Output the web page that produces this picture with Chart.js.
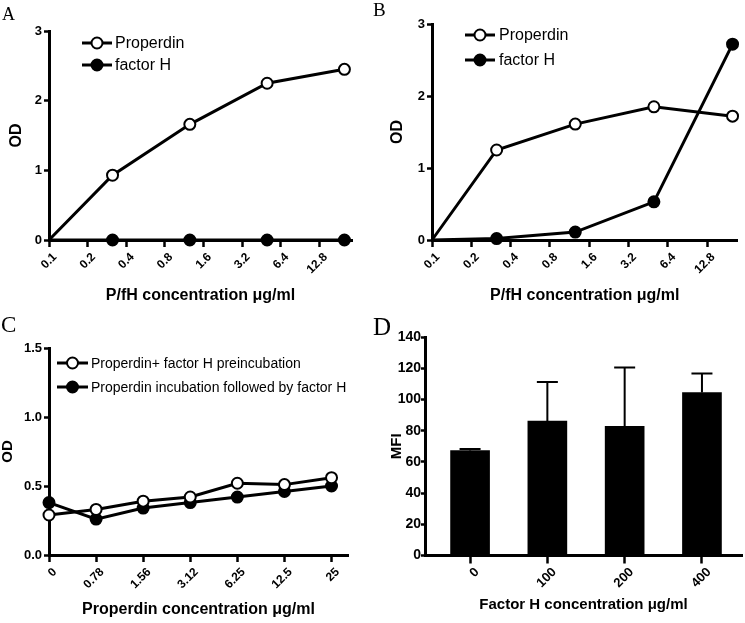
<!DOCTYPE html>
<html><head><meta charset="utf-8">
<script src="https://cdn.jsdelivr.net/npm/chart.js@4.4.1/dist/chart.umd.min.js"></script>
<style>
html,body{margin:0;padding:0;background:#fff;}
#wrap{position:relative;width:745px;height:623px;overflow:hidden;background:#fff;}
canvas{position:absolute;}
.lbl{position:absolute;font-family:"Liberation Serif","Times New Roman",serif;line-height:1;color:#000;}
</style></head><body>
<div id="wrap">
<canvas id="cA" width="372" height="310" style="left:0;top:0"></canvas>
<canvas id="cB" width="373" height="310" style="left:372px;top:0"></canvas>
<canvas id="cC" width="372" height="313" style="left:0;top:310px"></canvas>
<canvas id="cD" width="373" height="313" style="left:372px;top:310px"></canvas>
<div class="lbl" style="left:2px;top:5px;font-size:18px">A</div>
<div class="lbl" style="left:373px;top:0px;font-size:19px">B</div>
<div class="lbl" style="left:1px;top:313px;font-size:23px">C</div>
<div class="lbl" style="left:373px;top:314px;font-size:25px">D</div>
</div>
<script>
// ---- data ----
const concTickLabelsAB = ['0.1','0.2','0.4','0.8','1.6','3.2','6.4','12.8'];
const concAB = [0.1, 0.3125, 1.25, 5, 20];
const properdinA = [0, 0.93, 1.66, 2.25, 2.45];
const factorHA = [0, 0, 0, 0, 0];
const properdinB = [0, 1.25, 1.61, 1.85, 1.72];
const factorHB = [0, 0.02, 0.11, 0.53, 2.72];
const odTicksAB = [0, 1, 2, 3];

const concC = ['0','0.78','1.56','3.12','6.25','12.5','25'];
const preincubationC = [0.29, 0.33, 0.39, 0.42, 0.52, 0.51, 0.56];
const followedC = [0.38, 0.26, 0.34, 0.38, 0.42, 0.46, 0.50];
const odTicksC = [0, 0.5, 1.0, 1.5];

const concD = ['0','100','200','400'];
const mfiD = [67.2, 86.1, 82.7, 104.4];
const errD = [1.1, 25.1, 37.8, 12.2];
const mfiTicksD = [0, 20, 40, 60, 80, 100, 120, 140];

// ---- helpers ----
const FAM = '"Liberation Sans", Arial, Helvetica, sans-serif';
const BLACK = '#000';
const log2x = c => Math.log2(c / 0.1);

const insideLegend = {
  id: 'insideLegend',
  afterDraw(chart, args, o) {
    const ctx = chart.ctx;
    chart.data.datasets.forEach((ds, i) => {
      const y = o.y + i * o.gap;
      ctx.save();
      ctx.strokeStyle = BLACK; ctx.lineWidth = 3;
      ctx.beginPath(); ctx.moveTo(o.x0, y); ctx.lineTo(o.x1, y); ctx.stroke();
      ctx.beginPath(); ctx.arc((o.x0 + o.x1) / 2, y, o.r, 0, Math.PI * 2);
      ctx.fillStyle = ds.pointBackgroundColor; ctx.fill();
      ctx.lineWidth = 2; ctx.stroke();
      ctx.fillStyle = BLACK; ctx.font = o.font; ctx.textBaseline = 'middle'; ctx.textAlign = 'left';
      ctx.fillText(ds.label, o.tx, y + 1);
      ctx.restore();
    });
  }
};

const errorBars = {
  id: 'errorBars',
  afterDatasetsDraw(chart, args, o) {
    const {ctx, scales: {x, y}} = chart;
    const ds = chart.data.datasets[0];
    ctx.save();
    ctx.strokeStyle = BLACK; ctx.lineWidth = o.width;
    ds.data.forEach((p, i) => {
      const px = x.getPixelForValue(p.x);
      const base = y.getPixelForValue(p.y);
      const top = y.getPixelForValue(p.y + ds.errors[i]);
      ctx.beginPath();
      ctx.moveTo(px, base); ctx.lineTo(px, top);
      ctx.moveTo(px - o.cap / 2, top); ctx.lineTo(px + o.cap / 2, top);
      ctx.stroke();
    });
    ctx.restore();
  }
};

function gridOpts(len) {
  return {display: true, drawOnChartArea: false, drawTicks: true, tickLength: len, tickWidth: 2.5, tickColor: BLACK, color: BLACK};
}
function borderOpts() { return {display: true, color: BLACK, width: 3}; }

function lineDataset(label, xs, ys, open, hideFirst) {
  return {
    label,
    data: xs.map((x, i) => ({x, y: ys[i]})),
    borderColor: BLACK, borderWidth: 3,
    pointBackgroundColor: open ? '#fff' : BLACK,
    pointBorderColor: BLACK, pointBorderWidth: 2,
    pointRadius: ctx => (hideFirst && ctx.dataIndex === 0) ? 0 : 5.5,
    tension: 0, clip: false, fill: false
  };
}

function xAxis(o) {
  return {
    type: 'linear', min: o.min, max: o.max, offset: false,
    afterBuildTicks: s => { s.ticks = o.labels.map((_, i) => ({value: i})); },
    ticks: {callback: v => o.labels[v], autoSkip: false, maxRotation: 45, minRotation: 45,
      font: {family: FAM, size: o.tickSize, weight: 'bold'}, color: BLACK, padding: o.tickPad, labelOffset: o.labelOffset},
    grid: Object.assign(gridOpts(o.tickLen), {offset: false}),
    border: borderOpts(),
    title: {display: true, text: o.title, color: BLACK, font: {family: FAM, size: o.titleSize, weight: 'bold', lineHeight: 1.2}, padding: {top: 0, bottom: o.titlePad}},
    afterFit: s => { s.height = o.height; }
  };
}
function yAxis(o) {
  return {
    type: 'linear', min: o.min, max: o.max,
    afterBuildTicks: s => { s.ticks = o.ticks.map(v => ({value: v})); },
    ticks: {callback: o.fmt, font: {family: FAM, size: o.tickSize, weight: 'bold'}, color: BLACK, padding: o.tickPad},
    grid: gridOpts(o.tickLen),
    border: borderOpts(),
    title: {display: true, text: o.title, color: BLACK, font: {family: FAM, size: o.titleSize, weight: 'bold', lineHeight: 1.2}, padding: {top: o.titlePad, bottom: 0}},
    afterFit: s => { s.width = o.width; }
  };
}
const base = {responsive: false, animation: false, devicePixelRatio: 1, events: []};

// ---- A ----
new Chart(document.getElementById('cA'), {
  type: 'line',
  data: {datasets: [
    lineDataset('Properdin', concAB.map(log2x), properdinA, true, true),
    lineDataset('factor H', concAB.map(log2x), factorHA, false, true)
  ]},
  options: Object.assign({}, base, {
    layout: {padding: {left: 0, top: 31, right: 20, bottom: 0}},
    plugins: {legend: {display: false}, tooltip: {enabled: false},
      insideLegend: {x0: 82, x1: 112, y: 43, gap: 22, r: 5.5, tx: 115, font: '16px ' + FAM}},
    scales: {
      x: xAxis({min: 0, max: 7.84, labels: concTickLabelsAB, tickSize: 12, tickPad: 3, labelOffset: 6, tickLen: 7, title: 'P/fH concentration μg/ml', titleSize: 16, titlePad: 5, height: 70}),
      y: yAxis({min: 0, max: 3, ticks: odTicksAB, fmt: v => String(v), tickSize: 13, tickPad: 2, tickLen: 5, title: 'OD', titleSize: 16, titlePad: 7, width: 49})
    }
  }),
  plugins: [insideLegend]
});

// ---- B ----
new Chart(document.getElementById('cB'), {
  type: 'line',
  data: {datasets: [
    lineDataset('Properdin', concAB.map(log2x), properdinB, true, true),
    lineDataset('factor H', concAB.map(log2x), factorHB, false, true)
  ]},
  options: Object.assign({}, base, {
    layout: {padding: {left: 0, top: 24, right: 3, bottom: 0}},
    plugins: {legend: {display: false}, tooltip: {enabled: false},
      insideLegend: {x0: 93, x1: 123, y: 35, gap: 25, r: 5.5, tx: 127, font: '16px ' + FAM}},
    scales: {
      x: xAxis({min: 0, max: 7.77, labels: concTickLabelsAB, tickSize: 12, tickPad: 3, labelOffset: 6, tickLen: 7, title: 'P/fH concentration μg/ml', titleSize: 16, titlePad: 5, height: 70}),
      y: yAxis({min: 0, max: 3, ticks: odTicksAB, fmt: v => String(v), tickSize: 13, tickPad: 2, tickLen: 5, title: 'OD', titleSize: 16, titlePad: 16, width: 60})
    }
  }),
  plugins: [insideLegend]
});

// ---- C ----
new Chart(document.getElementById('cC'), {
  type: 'line',
  data: {datasets: [
    lineDataset('Properdin+ factor H preincubation', concC.map((_, i) => i), preincubationC, true, false),
    lineDataset('Properdin incubation followed by factor H', concC.map((_, i) => i), followedC, false, false)
  ]},
  options: Object.assign({}, base, {
    layout: {padding: {left: 0, top: 38, right: 24, bottom: 0}},
    plugins: {legend: {display: false}, tooltip: {enabled: false},
      insideLegend: {x0: 57, x1: 88, y: 53, gap: 24, r: 5.5, tx: 91, font: '14px ' + FAM}},
    scales: {
      x: xAxis({min: 0, max: 6.35, labels: concC, tickSize: 12, tickPad: 3, labelOffset: 6, tickLen: 7, title: 'Properdin concentration μg/ml', titleSize: 16, titlePad: 4, height: 68}),
      y: yAxis({min: 0, max: 1.5, ticks: odTicksC, fmt: v => v.toFixed(1), tickSize: 13, tickPad: 2, tickLen: 5, title: 'OD', titleSize: 15, titlePad: -1, width: 49})
    }
  }),
  plugins: [insideLegend]
});

// ---- D ----
new Chart(document.getElementById('cD'), {
  type: 'bar',
  data: {datasets: [{
    label: 'MFI',
    data: mfiD.map((v, i) => ({x: i, y: v})),
    errors: errD,
    backgroundColor: BLACK, borderWidth: 0, barThickness: 39
  }]},
  options: Object.assign({}, base, {
    layout: {padding: {left: 0, top: 27, right: 3, bottom: 0}},
    plugins: {legend: {display: false}, tooltip: {enabled: false}, errorBars: {width: 2, cap: 21}},
    scales: {
      x: xAxis({min: -0.583, max: 3.518, labels: concD, tickSize: 13, tickPad: 1, labelOffset: 7, tickLen: 8, title: 'Factor H concentration μg/ml', titleSize: 15, titlePad: 9, height: 67.5}),
      y: yAxis({min: 0, max: 140, ticks: mfiTicksD, fmt: v => String(v), tickSize: 14, tickPad: 0, tickLen: 4, title: 'MFI', titleSize: 15, titlePad: 16, width: 53})
    }
  }),
  plugins: [errorBars]
});
</script>
</body></html>
